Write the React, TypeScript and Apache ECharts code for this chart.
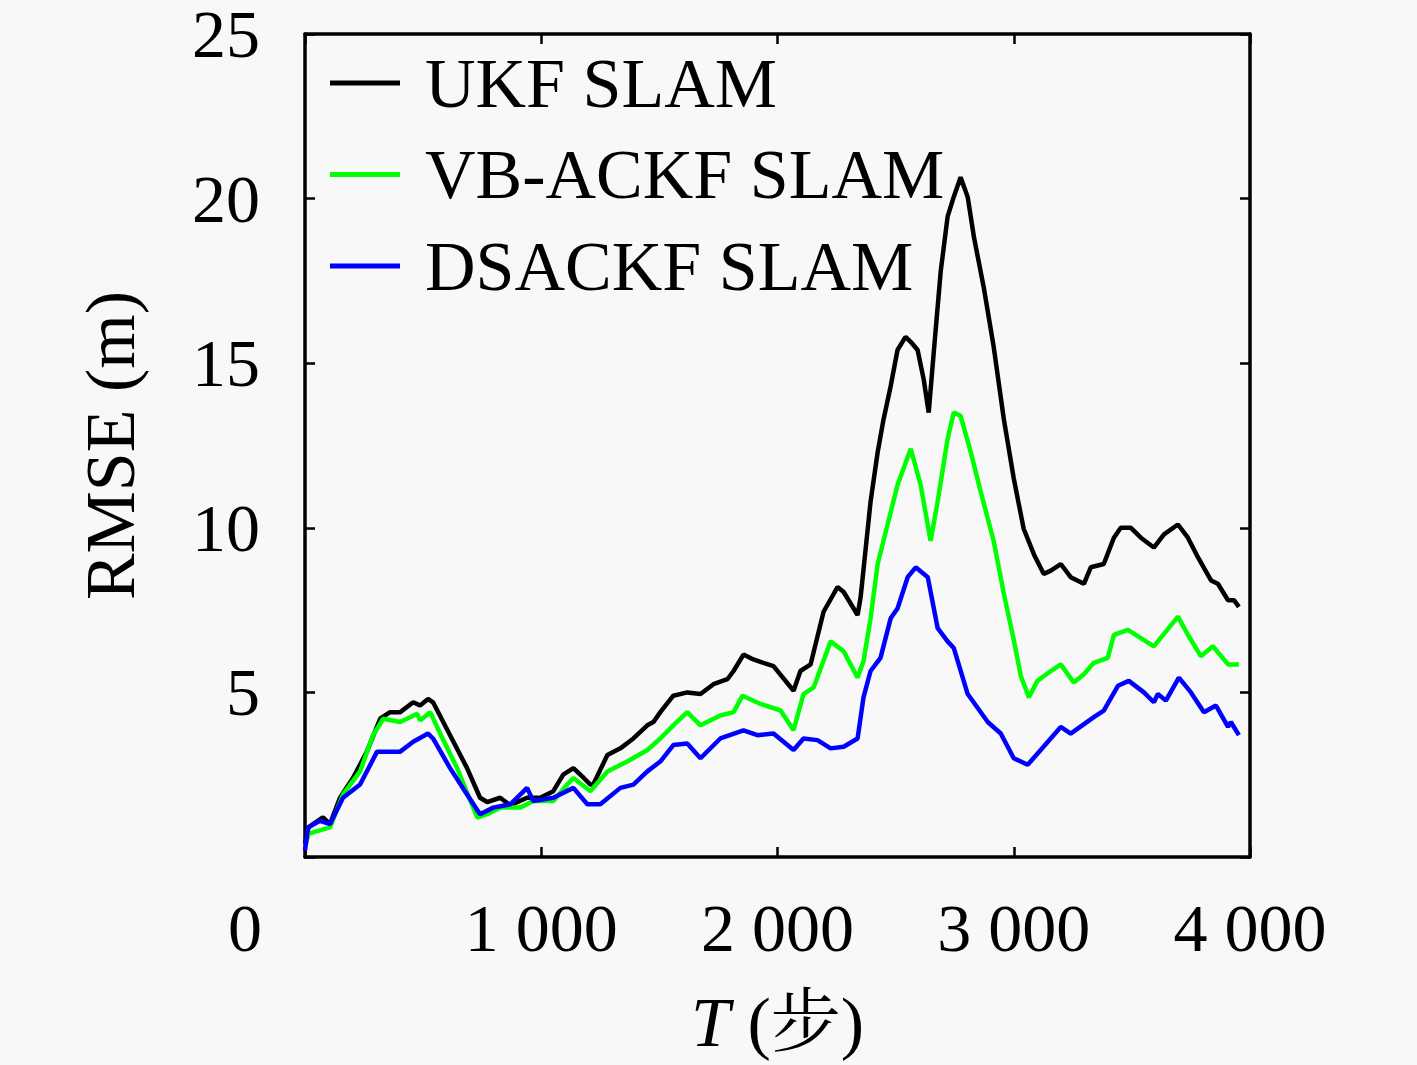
import React, { useEffect, useRef } from "react";
import * as echarts from "echarts";

const seriesNames = ["UKF SLAM", "VB-ACKF SLAM", "DSACKF SLAM"];
const seriesColors = ["#000000", "#00ff00", "#0000ff"];

const xTicks = [0, 1000, 2000, 3000, 4000];
const yTicks = [0, 5, 10, 15, 20, 25];

const ukf: number[][] = [
  [0, 0.4], [15, 0.9], [34, 1.0], [76, 1.2], [106, 1.0], [148, 1.8], [203, 2.4], [262, 3.2],
  [318, 4.2], [360, 4.4], [403, 4.4], [458, 4.7], [487, 4.6], [521, 4.8], [542, 4.7], [614, 3.7],
  [686, 2.7], [741, 1.8], [771, 1.67], [826, 1.8], [869, 1.57], [940, 1.8], [996, 1.8], [1051, 2.0],
  [1093, 2.5], [1136, 2.7], [1180, 2.4], [1208, 2.2], [1220, 2.2], [1280, 3.1], [1335, 3.3],
  [1390, 3.6], [1449, 4.0], [1475, 4.1], [1504, 4.4], [1559, 4.9], [1618, 5.0], [1674, 4.95],
  [1729, 5.25], [1788, 5.4], [1814, 5.65], [1856, 6.15], [1898, 6.0], [1940, 5.9], [1983, 5.8],
  [2068, 5.05], [2097, 5.65], [2140, 5.85], [2195, 7.45], [2254, 8.2], [2280, 8.05], [2339, 7.35],
  [2352, 7.9], [2394, 10.8], [2424, 12.3], [2449, 13.3], [2479, 14.3], [2508, 15.4], [2542, 15.8],
  [2570, 15.6], [2593, 15.4], [2619, 14.5], [2640, 13.5], [2661, 15.3], [2691, 17.8], [2720, 19.45],
  [2746, 20.05], [2775, 20.65], [2805, 20.05], [2831, 18.85], [2873, 17.3], [2915, 15.5],
  [2958, 13.3], [3000, 11.5], [3042, 9.97], [3085, 9.2], [3127, 8.6], [3157, 8.7], [3199, 8.9],
  [3241, 8.5], [3297, 8.3], [3326, 8.8], [3381, 8.9], [3424, 9.7], [3453, 10.0], [3496, 10.0],
  [3538, 9.7], [3593, 9.4], [3636, 9.8], [3695, 10.1], [3737, 9.7], [3780, 9.1], [3835, 8.4],
  [3864, 8.3], [3907, 7.8], [3932, 7.8], [3953, 7.6],
];

const vbackf: number[][] = [
  [0, 0.3], [15, 0.7], [34, 0.75], [106, 0.9], [161, 1.9], [233, 2.6], [288, 3.7], [331, 4.2],
  [403, 4.1], [475, 4.35], [487, 4.15], [530, 4.4], [572, 3.75], [644, 2.7], [729, 1.2], [771, 1.3],
  [826, 1.5], [911, 1.5], [966, 1.7], [1051, 1.7], [1110, 2.2], [1136, 2.4], [1208, 2.0],
  [1280, 2.6], [1364, 2.9], [1449, 3.25], [1504, 3.6], [1559, 4.0], [1618, 4.4], [1674, 4.0],
  [1758, 4.3], [1814, 4.4], [1852, 4.9], [1928, 4.65], [2013, 4.45], [2068, 3.85], [2110, 4.95],
  [2153, 5.15], [2225, 6.55], [2280, 6.25], [2339, 5.45], [2364, 5.95], [2394, 7.25], [2424, 8.9],
  [2466, 10.1], [2508, 11.3], [2564, 12.4], [2606, 11.3], [2648, 9.6], [2678, 10.8], [2720, 12.7],
  [2746, 13.5], [2775, 13.4], [2818, 12.3], [2860, 11.1], [2915, 9.6], [2958, 8.0], [3000, 6.6],
  [3030, 5.5], [3064, 4.85], [3100, 5.35], [3157, 5.65], [3199, 5.85], [3254, 5.3], [3297, 5.55],
  [3339, 5.9], [3398, 6.05], [3424, 6.75], [3483, 6.9], [3538, 6.65], [3593, 6.4], [3695, 7.3],
  [3737, 6.75], [3792, 6.1], [3843, 6.4], [3907, 5.85], [3953, 5.85],
];

const dsackf: number[][] = [
  [0, 0.2], [13, 0.9], [64, 1.1], [106, 1.0], [161, 1.8], [233, 2.2], [305, 3.2], [347, 3.2],
  [403, 3.2], [458, 3.5], [521, 3.75], [542, 3.6], [614, 2.7], [686, 1.9], [741, 1.3], [797, 1.5],
  [869, 1.6], [940, 2.1], [966, 1.7], [1051, 1.8], [1136, 2.1], [1195, 1.6], [1250, 1.6],
  [1335, 2.1], [1390, 2.2], [1449, 2.6], [1504, 2.9], [1559, 3.4], [1618, 3.45], [1674, 3.0],
  [1758, 3.6], [1856, 3.85], [1915, 3.7], [1983, 3.75], [2068, 3.25], [2110, 3.6], [2169, 3.55],
  [2225, 3.3], [2280, 3.35], [2339, 3.6], [2364, 4.85], [2394, 5.65], [2436, 6.05], [2479, 7.25],
  [2508, 7.55], [2551, 8.5], [2585, 8.8], [2636, 8.5], [2678, 6.95], [2720, 6.55], [2746, 6.35],
  [2805, 4.95], [2890, 4.1], [2945, 3.75], [3000, 3.0], [3059, 2.8], [3114, 3.25], [3199, 3.95],
  [3241, 3.75], [3339, 4.25], [3381, 4.45], [3441, 5.2], [3487, 5.35], [3551, 5.0], [3593, 4.7],
  [3610, 4.95], [3644, 4.75], [3699, 5.45], [3750, 5.0], [3805, 4.4], [3856, 4.6], [3907, 3.95],
  [3919, 4.1], [3953, 3.7],
];

const seriesData = [ukf, vbackf, dsackf];

const FONT = "'Liberation Serif', 'Noto Serif CJK SC', 'Noto Sans CJK SC', serif";
const BG = "#f8f8f8";

function mkLine() {
  return { show: true, onZero: false, lineStyle: { color: "#000", width: 3.5 } };
}
function mkTick() {
  return { show: true, inside: true, length: 10, lineStyle: { color: "#000", width: 2.5 } };
}

export default function App() {
  const ref = useRef<HTMLDivElement>(null);

  useEffect(() => {
    if (!ref.current) return;
    const chart = echarts.init(ref.current, undefined, { renderer: "svg" });
    const xMin = xTicks[0];
    const xMax = xTicks[xTicks.length - 1];
    const xInt = xTicks[1] - xTicks[0];
    const yMin = yTicks[0];
    const yMax = yTicks[yTicks.length - 1];
    const yInt = yTicks[1] - yTicks[0];

    const option: any = {
      animation: false,
      backgroundColor: BG,
      grid: { left: 305, right: 167, top: 30, bottom: 208, containLabel: false },
      legend: {
        orient: "vertical",
        left: 325,
        top: 43,
        itemWidth: 70,
        itemHeight: 5,
        itemGap: 21.5,
        icon: "rect",
        data: seriesNames,
        textStyle: {
          fontFamily: FONT,
          fontSize: 70,
          lineHeight: 70,
          color: "#000",
          padding: [0, 0, 0, 20],
        },
      },
      xAxis: [
        {
          type: "value",
          min: xMin,
          max: xMax,
          interval: xInt,
          position: "bottom",
          axisLine: mkLine(),
          axisTick: mkTick(),
          splitLine: { show: false },
          axisLabel: {
            margin: 37,
            fontFamily: FONT,
            fontSize: 68,
            color: "#000",
            formatter: (v: number) => {
              if (v === 0) return "{z|0}";
              const s = String(v);
              return s.length > 3 ? s.slice(0, s.length - 3) + " " + s.slice(s.length - 3) : s;
            },
            rich: {
              z: { fontFamily: FONT, fontSize: 68, color: "#000", padding: [0, 120, 0, 0] },
            },
          },
          name: "{i|T} (步)",
          nameLocation: "middle",
          nameGap: 130,
          nameTextStyle: {
            fontFamily: FONT,
            fontSize: 70,
            color: "#000",
            rich: {
              i: { fontFamily: FONT, fontSize: 70, fontStyle: "italic", color: "#000" },
            },
          },
        },
        {
          type: "value",
          show: true,
          min: xMin,
          max: xMax,
          interval: xInt,
          position: "top",
          axisLine: mkLine(),
          axisTick: mkTick(),
          axisLabel: { show: false },
          splitLine: { show: false },
        },
      ],
      yAxis: [
        {
          type: "value",
          min: yMin,
          max: yMax,
          interval: yInt,
          position: "left",
          axisLine: mkLine(),
          axisTick: mkTick(),
          splitLine: { show: false },
          axisLabel: {
            margin: 45,
            fontFamily: FONT,
            fontSize: 68,
            lineHeight: 50,
            color: "#000",
            formatter: (v: number) => (v === 0 ? "" : String(v)),
          },
          name: "RMSE (m)",
          nameLocation: "middle",
          nameGap: 160,
          nameTextStyle: { fontFamily: FONT, fontSize: 70, color: "#000" },
        },
        {
          type: "value",
          show: true,
          min: yMin,
          max: yMax,
          interval: yInt,
          position: "right",
          axisLine: mkLine(),
          axisTick: mkTick(),
          axisLabel: { show: false },
          splitLine: { show: false },
        },
      ],
      series: [
        ...seriesNames.map((name, i) => ({
          name,
          type: "line",
          data: seriesData[i],
          xAxisIndex: 0,
          yAxisIndex: 0,
          showSymbol: false,
          symbol: "none",
          color: seriesColors[i],
          lineStyle: { color: seriesColors[i], width: 4.5 },
          clip: true,
        })),
        {
          name: "frame",
          type: "line",
          data: [],
          xAxisIndex: 1,
          yAxisIndex: 1,
          showSymbol: false,
          silent: true,
        },
      ],
    };
    chart.setOption(option);
    return () => chart.dispose();
  }, []);

  return (
    <div
      ref={ref}
      style={{ position: "fixed", left: 0, top: 0, width: 1417, height: 1065, background: BG }}
    />
  );
}
